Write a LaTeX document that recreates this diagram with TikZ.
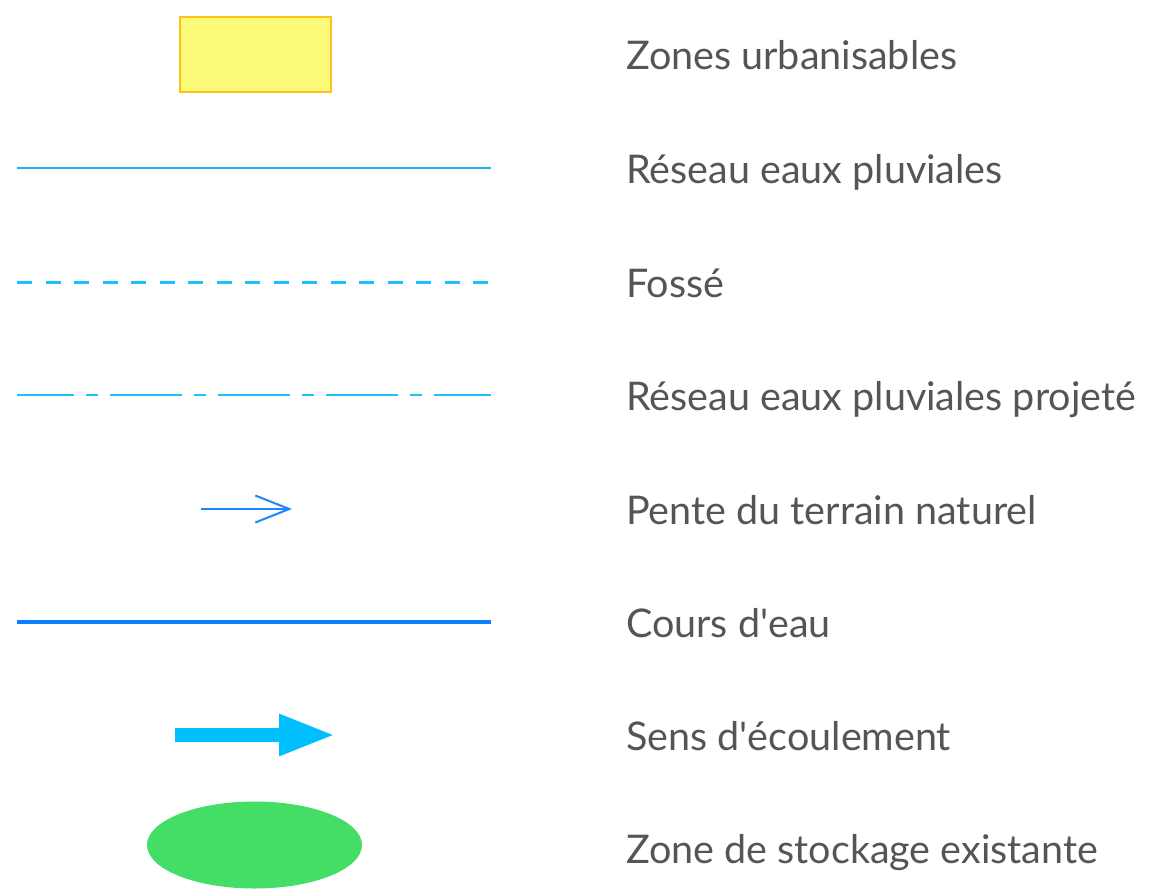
\documentclass[tikz,border=0pt]{standalone}
\usepackage{fontspec}
\setmainfont{Lato}
\usetikzlibrary{arrows.meta,shapes.geometric}
\definecolor{txtgray}{HTML}{555555}
\definecolor{zonefill}{HTML}{FFFB7A}
\definecolor{zonedraw}{HTML}{FFC21A}
\definecolor{pluv}{HTML}{1AAEF5}
\definecolor{fosse}{HTML}{1CC0FF}
\definecolor{projete}{HTML}{1CC0FF}
\definecolor{pente}{HTML}{1A86FF}
\definecolor{cours}{HTML}{0A80FF}
\definecolor{sens}{HTML}{00BFFF}
\definecolor{stock}{HTML}{44DD66}
\tikzset{
  lbl/.style={anchor=base west, text=txtgray, inner sep=0pt, font=\fontsize{39.5}{46}\selectfont},
}
\begin{document}
\begin{tikzpicture}[x=1pt,y=-1pt]
\useasboundingbox (0,0) rectangle (1158,889);
% row 1
\node[draw=zonedraw, fill=zonefill, line width=1.2pt, minimum width=151pt, minimum height=75pt, inner sep=0pt] (zone) at (255.5,54.5) {};
\node[lbl] (t1) at (626,69) {Zones urbanisables};
% row 2
\coordinate (a1) at (17,168); \coordinate (b1) at (491,168);
\draw[pluv, line width=2pt] (a1) -- (b1);
\node[lbl] (t2) at (626,183) {Réseau eaux pluviales};
% row 3
\coordinate (a2) at (17,282); \coordinate (b2) at (491,282);
\draw[fosse, line width=3pt, dash pattern=on 15pt off 13.5pt] (a2) -- (b2);
\node[lbl] (t3) at (626,297) {Fossé};
% row 4
\coordinate (a3) at (17,395); \coordinate (b3) at (491,395);
\draw[projete, line width=2pt, dash pattern=on 72pt off 12pt on 12pt off 12pt, dash phase=15pt] (a3) -- (b3);
\node[lbl] (t4) at (626,410) {Réseau eaux pluviales projeté};
% row 5
\coordinate (a4) at (201,509); \coordinate (b4) at (292,509);
\draw[pente, line width=2pt, -{Straight Barb[length=34pt, width=27pt, line width=2pt]}] (a4) -- (b4);
\node[lbl] (t5) at (626,524) {Pente du terrain naturel};
% row 6
\coordinate (a5) at (17,622); \coordinate (b5) at (491,622);
\draw[cours, line width=4pt] (a5) -- (b5);
\node[lbl] (t6) at (626,637) {Cours d\textquotesingle eau};
% row 7
\coordinate (a6) at (175,735); \coordinate (b6) at (336,735);
\draw[sens, line width=14pt, -{Triangle[length=57pt, width=38pt]}] (a6) -- (b6);
\node[lbl] (t7) at (626,750) {Sens d\textquotesingle écoulement};
% row 8
\node[ellipse, fill=stock, minimum width=215pt, minimum height=87pt, inner sep=0pt, draw=none] (stock) at (254.5,845) {};
\node[lbl] (t8) at (626,863) {Zone de stockage existante};
\end{tikzpicture}
\end{document}
